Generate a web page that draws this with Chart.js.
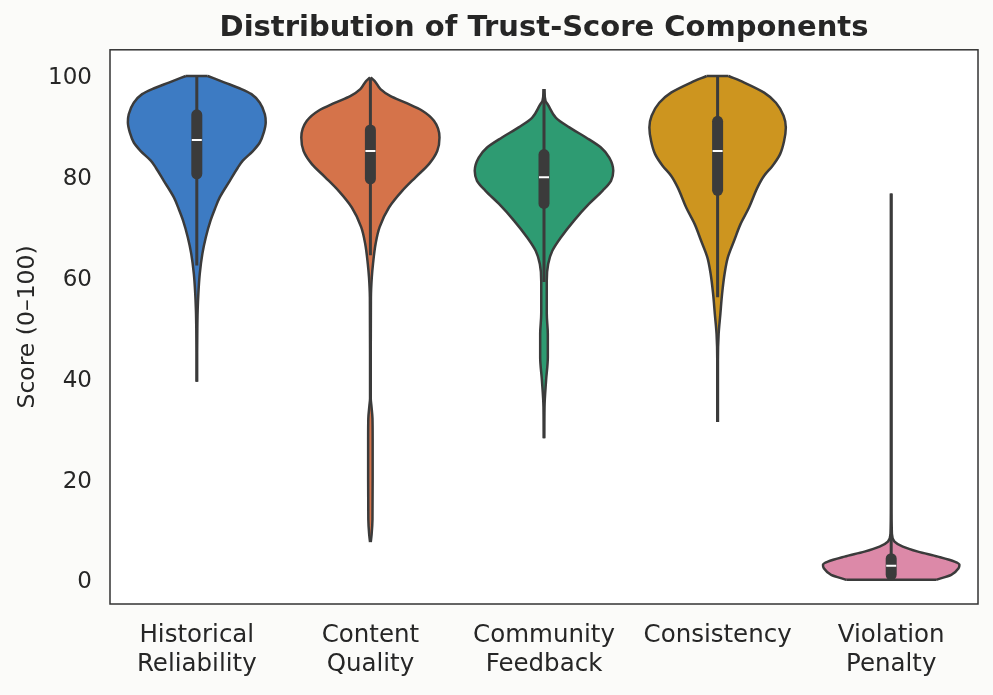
<!DOCTYPE html>
<html><head><meta charset="utf-8">
<script src="https://cdn.jsdelivr.net/npm/chart.js@4.4.1/dist/chart.umd.min.js"></script>
<style>html,body{margin:0;padding:0;background:#fbfbf9;} #wrap{width:993px;height:695px;}</style>
</head><body><div id="wrap"><canvas id="c" width="993" height="695"></canvas></div>
<script>
// ---- data ----
const categories = [['Historical', 'Reliability'], ['Content', 'Quality'], ['Community', 'Feedback'], ['Consistency'], ['Violation', 'Penalty']];
const colors = ['#3d7bc3', '#d5734a', '#2e9b72', '#cd951f', '#dc89a8'];
const yTicks = [0, 20, 40, 60, 80, 100];

// violin profiles: score levels and half-widths (in category units)
const hrScore = [39.3, 45, 50, 53.5, 56.8, 60.7, 64.7, 68.0, 71.3, 73.6, 75.9, 79.2, 81.8, 83.2, 85.1, 86.8, 88.8, 90.8, 92.4, 94.7, 96.4, 97.4, 98.7, 100];
const hrWidth = [0.002, 0.002, 0.003, 0.005, 0.009, 0.017, 0.032, 0.052, 0.079, 0.104, 0.132, 0.190, 0.236, 0.265, 0.323, 0.363, 0.386, 0.397, 0.392, 0.363, 0.315, 0.257, 0.161, 0.063];

const cqScore = [7.5, 9, 12, 20, 28, 32, 34.5, 36, 45, 56, 60, 62.7, 66.7, 70.0, 73.9, 77.2, 79.9, 82.5, 85.1, 87.8, 91.1, 93.1, 94.7, 96.0, 97.4, 99.0, 99.7];
const cqWidth = [0.002, 0.007, 0.012, 0.013, 0.013, 0.012, 0.006, 0.002, 0.002, 0.003, 0.008, 0.015, 0.030, 0.053, 0.107, 0.183, 0.260, 0.337, 0.385, 0.398, 0.366, 0.299, 0.202, 0.116, 0.058, 0.025, 0.002];

const cfScore = [28.1, 34.3, 39.6, 44.2, 48.8, 52.8, 59.4, 62.7, 65.3, 68.0, 71.3, 74.6, 77.2, 79.2, 81.2, 83.8, 85.8, 87.8, 89.8, 91.7, 94.4, 95.0, 97.4];
const cfWidth = [0.002, 0.003, 0.012, 0.022, 0.022, 0.016, 0.016, 0.024, 0.048, 0.098, 0.173, 0.259, 0.337, 0.386, 0.399, 0.376, 0.328, 0.242, 0.146, 0.069, 0.021, 0.009, 0.002];

const csScore = [31.3, 43.6, 48.8, 52.8, 56.8, 60.7, 64.0, 67.3, 70.6, 73.9, 77.9, 80.2, 82.2, 84.5, 87.1, 89.8, 92.1, 94.7, 96.7, 98.7, 100];
const csWidth = [0.002, 0.002, 0.006, 0.016, 0.026, 0.040, 0.059, 0.095, 0.132, 0.181, 0.230, 0.268, 0.317, 0.360, 0.383, 0.393, 0.380, 0.336, 0.268, 0.153, 0.063];

const vpScore = [0, 1.0, 2.3, 3.0, 3.6, 4.6, 5.6, 6.6, 7.6, 9.2, 15, 76.7];
const vpWidth = [0.259, 0.346, 0.388, 0.393, 0.365, 0.269, 0.154, 0.067, 0.019, 0.004, 0.002, 0.002];

// inner box statistics
const boxQ1 = [80.6, 79.6, 74.7, 77.3, 1.0];
const boxMedian = [87.3, 85.1, 79.9, 85.1, 2.8];
const boxQ3 = [92.3, 89.3, 84.4, 91.0, 4.2];
const whiskerLow = [62.4, 64.4, 59.1, 56.1, 0];
const whiskerHigh = [100, 99.7, 97.4, 100, 9];

const profiles = [[hrScore, hrWidth], [cqScore, cqWidth], [cfScore, cfWidth], [csScore, csWidth], [vpScore, vpWidth]];

// ---- styles ----
const OUTLINE = '#3b3b3b';
const TEXT = '#262626';
const FONT = "'DejaVu Sans', sans-serif";

const datasets = [];
// inner boxes first so they draw on top
categories.forEach((_, i) => {
  datasets.push({
    data: [{ x: i, y: boxMedian[i] }], showLine: false,
    pointStyle: 'line', pointRadius: 5, pointBorderColor: '#ffffff', pointBorderWidth: 2, pointBackgroundColor: '#ffffff', fill: false
  });
  datasets.push({
    data: [{ x: i, y: boxQ1[i] }, { x: i, y: boxQ3[i] }],
    borderColor: OUTLINE, borderWidth: 11, borderCapStyle: 'round', pointRadius: 0, fill: false, tension: 0
  });
  datasets.push({
    data: [{ x: i, y: whiskerLow[i] }, { x: i, y: whiskerHigh[i] }],
    borderColor: OUTLINE, borderWidth: 3, pointRadius: 0, fill: false, tension: 0
  });
});
profiles.forEach(([sc, wd], i) => {
  // caps where the violin is truncated flat
  [0, sc.length - 1].forEach(k => {
    if (wd[k] > 0.01) {
      datasets.push({
        data: [{ x: i - wd[k], y: sc[k] }, { x: i + wd[k], y: sc[k] }],
        borderColor: OUTLINE, borderWidth: 2.5, pointRadius: 0, fill: false, tension: 0
      });
    }
  });
  datasets.push({
    data: sc.map((s, k) => ({ x: i - wd[k], y: s })),
    borderColor: OUTLINE, borderWidth: 2.5, pointRadius: 0, fill: false, cubicInterpolationMode: 'monotone'
  });
  datasets.push({
    data: sc.map((s, k) => ({ x: i + wd[k], y: s })),
    borderColor: OUTLINE, borderWidth: 2.5, pointRadius: 0, fill: '-1', backgroundColor: colors[i], cubicInterpolationMode: 'monotone'
  });
});

const framePlugin = {
  id: 'frame',
  beforeDraw(chart) {
    const { ctx, chartArea: a } = chart;
    ctx.save();
    ctx.fillStyle = '#fbfbf9';
    ctx.fillRect(0, 0, chart.width, chart.height);
    ctx.fillStyle = '#ffffff';
    ctx.fillRect(a.left, a.top, a.right - a.left, a.bottom - a.top);
    ctx.restore();
  },
  afterDraw(chart) {
    const { ctx, chartArea: a } = chart;
    ctx.save();
    ctx.strokeStyle = '#333333';
    ctx.lineWidth = 1.5;
    ctx.strokeRect(a.left, a.top, a.right - a.left, a.bottom - a.top);
    ctx.restore();
  }
};

new Chart(document.getElementById('c'), {
  type: 'line',
  data: { datasets },
  options: {
    indexAxis: 'y',
    responsive: false,
    animation: false,
    devicePixelRatio: 1,
    layout: { padding: { top: 0, right: 15, bottom: 0, left: 0 } },
    plugins: {
      legend: { display: false },
      tooltip: { enabled: false },
      filler: { drawTime: 'beforeDatasetsDraw' },
      title: {
        display: true, fullSize: false,
        text: 'Distribution of Trust-Score Components',
        color: TEXT,
        font: { family: FONT, size: 29, weight: 'bold' },
        padding: { top: 11, bottom: 4 }
      }
    },
    scales: {
      x: {
        type: 'linear', min: -0.5, max: 4.5,
        grid: { display: false }, border: { display: false },
        afterBuildTicks: s => { s.ticks = categories.map((_, i) => ({ value: i })); },
        afterFit: s => { s.height = 91; },
        ticks: {
          autoSkip: false, maxRotation: 0, minRotation: 0, padding: 9,
          color: TEXT, font: { family: FONT, size: 24.5, lineHeight: 1.2 },
          callback: v => categories[v]
        }
      },
      y: {
        type: 'linear', min: -4.8, max: 105.2,
        grid: { display: false }, border: { display: false },
        afterBuildTicks: s => { s.ticks = yTicks.map(v => ({ value: v })); },
        afterFit: s => { s.width = 110; },
        ticks: { padding: 10, labelOffset: 2.5, color: TEXT, font: { family: FONT, size: 23 }, callback: v => String(v) },
        title: {
          display: true, text: 'Score (0–100)', color: TEXT,
          font: { family: FONT, size: 23.5 }, padding: { top: 14, bottom: 0 }
        }
      }
    }
  },
  plugins: [framePlugin]
});
</script>
</body></html>
